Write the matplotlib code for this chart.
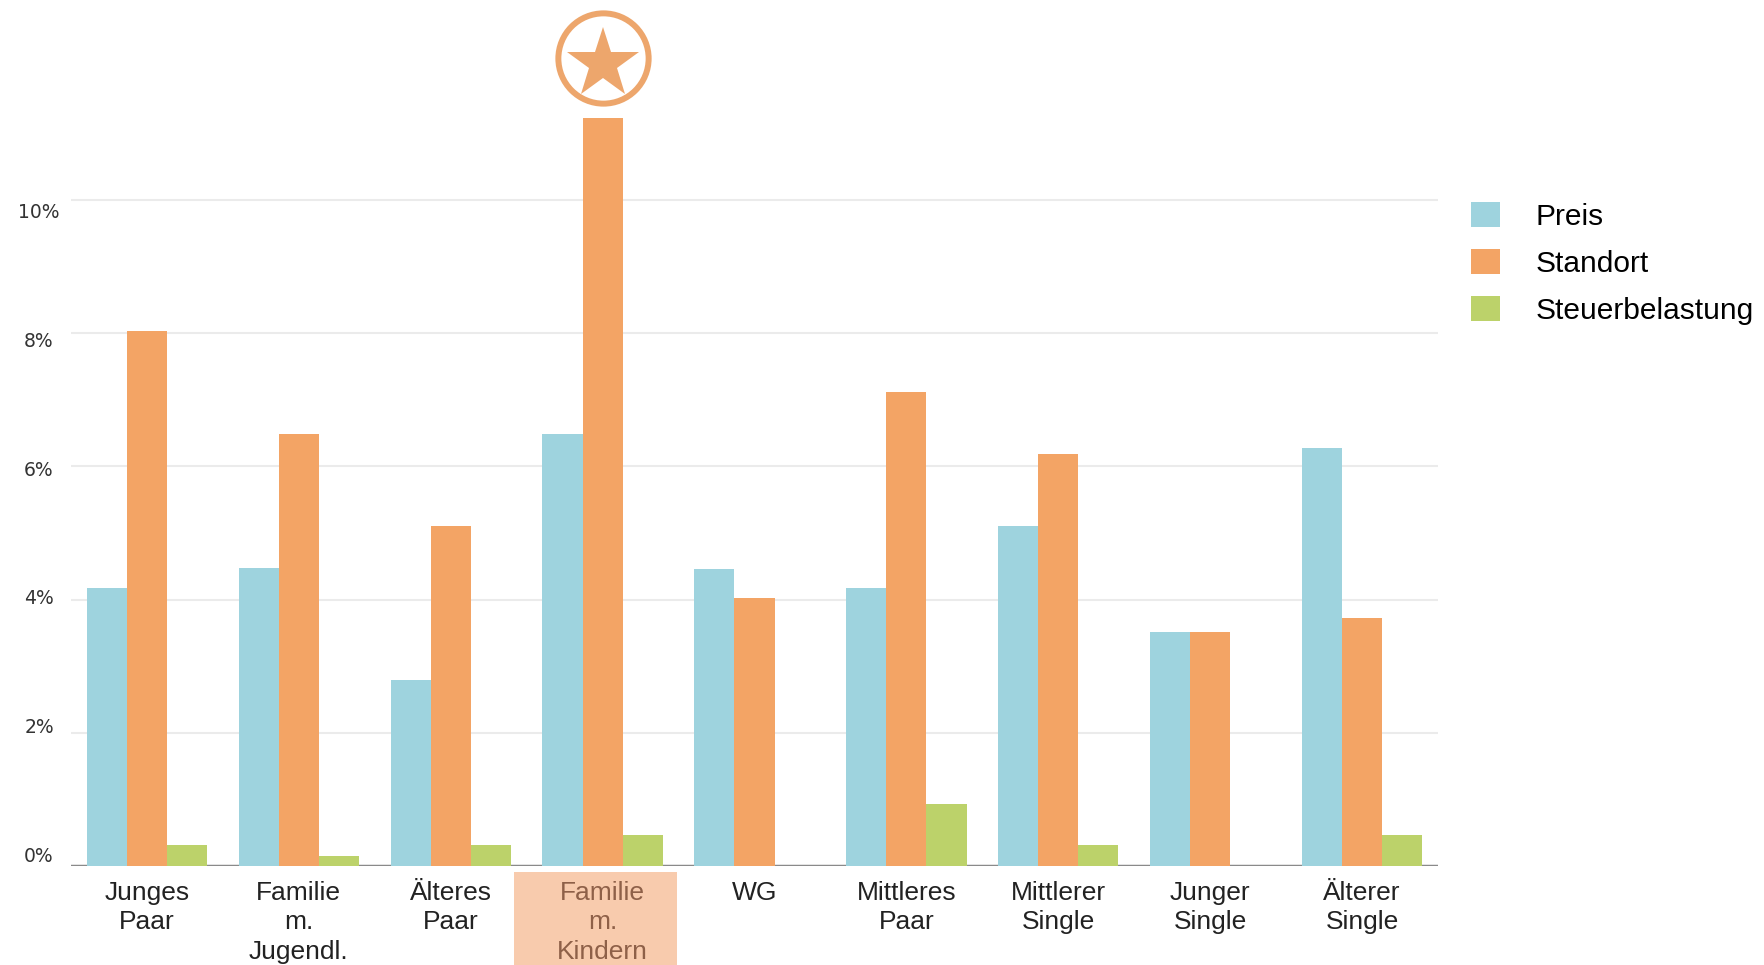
import matplotlib

matplotlib.use("Agg")
import matplotlib.pyplot as plt
import numpy as np
from matplotlib.patches import Patch, Rectangle
from matplotlib.transforms import blended_transform_factory

categories = [
    "Junges\nPaar",
    "Familie\nm.\nJugendl.",
    "Älteres\nPaar",
    "Familie\nm.\nKindern",
    "WG",
    "Mittleres\nPaar",
    "Mittlerer\nSingle",
    "Junger\nSingle",
    "Älterer\nSingle",
]
preis = [4.17, 4.48, 2.79, 6.49, 4.46, 4.17, 5.10, 3.51, 6.28]
standort = [8.04, 6.49, 5.10, 11.6, 4.02, 7.11, 6.18, 3.51, 3.72]
steuer = [0.32, 0.15, 0.32, 0.47, 0.0, 0.93, 0.32, 0.0, 0.47]
series_names = ["Preis", "Standort", "Steuerbelastung"]
yticks = [0, 2, 4, 6, 8, 10]
highlight = 3

colors = ["#9ED3DE", "#F3A465", "#BCD26A"]
text_col = "#222222"

plt.rcParams["font.family"] = ["Liberation Sans", "DejaVu Sans"]

fig = plt.figure(figsize=(17.64, 9.65), dpi=100)
ax = fig.add_axes([0.0402, 0.1026, 0.775, 0.775])
ax.set_zorder(1)
ax.patch.set_alpha(0)

x = np.arange(len(categories))
w = 0.264
for i, (vals, c) in enumerate(zip([preis, standort, steuer], colors)):
    ax.bar(x + (i - 1) * w, vals, width=w, color=c, zorder=3, linewidth=0)

ax.set_xlim(-0.5, len(categories) - 0.5)
ax.set_ylim(0, 11.23)

# light grid, darker baseline
for v in yticks[1:]:
    ax.axhline(v, color="#EBEBEB", linewidth=1.5, zorder=1)
ax.axhline(0, color="#8A8A8A", linewidth=2.5, zorder=2)

for s in ax.spines.values():
    s.set_visible(False)
ax.set_yticks([])
ax.set_xticks([])

# y tick labels sit slightly off the gridlines in the original
tr = blended_transform_factory(fig.transFigure, ax.transData)
for v in yticks:
    ax.text(0.0221, 0.15 + 0.966 * v, f"{v}%", transform=tr, ha="center", va="center",
            fontsize=13.5, color="#333333", family="DejaVu Sans")

# x category labels
for i, lab in enumerate(categories):
    col = "#8E6048" if i == highlight else text_col
    ax.text(x[i], -0.22, lab, ha="center", va="top", fontsize=19, color=col,
            linespacing=1.3, clip_on=False, zorder=5)

# highlight box behind the marked category
box = Rectangle((514 / 1764, 0), 163 / 1764, 93 / 965, transform=fig.transFigure,
                facecolor="#F8CBAD", edgecolor="none", zorder=0)
fig.patches.append(box)

# star badge above the highlighted group
ax.plot(x[highlight], 12.13, marker="o", markersize=65, markerfacecolor="white",
        markeredgecolor="#EDA66C", markeredgewidth=4.3, clip_on=False, zorder=6)
ax.plot(x[highlight], 12.05, marker="*", markersize=54, color="#EDA66C",
        markeredgewidth=0, clip_on=False, zorder=7)

handles = [Patch(facecolor=c, edgecolor="none") for c in colors]
fig.legend(handles, series_names, loc="upper left", bbox_to_anchor=(0.8274, 0.8035),
           frameon=False, fontsize=21.5, handlelength=0.95, handleheight=0.95,
           handletextpad=1.2, labelspacing=0.6, borderaxespad=0)

fig.savefig("out.png", dpi=100)
